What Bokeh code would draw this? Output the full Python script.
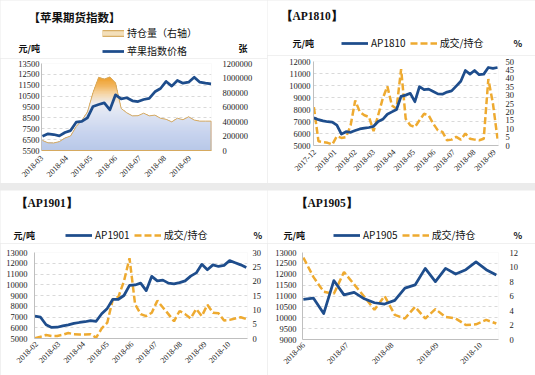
import math
import numpy as np
import pandas as pd
from bokeh.plotting import figure
from bokeh.models import (Range1d, LinearAxis, FixedTicker, DatetimeTickFormatter,
                          Legend, Label, BasicTickFormatter)
from bokeh.layouts import column, row
from bokeh.embed import file_html
from bokeh.resources import INLINE

# ---------------- data ----------------
index_title = "【苹果期货指数】"
index_start = "2018-03-02"
index_months = ["2018-03", "2018-04", "2018-05", "2018-06", "2018-07", "2018-08", "2018-09"]
index_price = [6800, 7030, 6970, 6850, 7150, 7330, 8100, 8170, 8500, 9550, 9730, 9880, 9240,
               10620, 10250, 10350, 10070, 10000, 10190, 10300, 10900, 11200, 11850, 11420,
               11940, 11690, 11780, 12240, 11780, 11690, 11630]
index_oi = [138000, 106000, 104000, 122000, 172000, 200000, 330000, 415000, 530000, 800000,
            1010000, 985000, 1015000, 930000, 580000, 520000, 478000, 480000, 515000, 478000,
            488000, 445000, 430000, 395000, 445000, 425000, 465000, 420000, 405000, 405000, 405000]
index_left_ticks = [5500, 6500, 7500, 8500, 9500, 10500, 11500, 12500, 13500]
index_right_ticks = [0, 200000, 400000, 600000, 800000, 1000000, 1200000]

ap1810_start = "2017-11-30"
ap1810_months = ["2017-12", "2018-01", "2018-02", "2018-03", "2018-04", "2018-05",
                 "2018-06", "2018-07", "2018-08", "2018-09"]
ap1810_price = [7300, 7150, 7050, 6980, 6950, 6700, 5950, 6150, 6100, 6250, 6380, 6450, 6500,
                6600, 7000, 7180, 7600, 7800, 8000, 9100, 9200, 9350, 8650, 9900, 9650, 9700,
                9500, 9300, 9280, 9450, 9550, 9950, 10350, 11250, 10950, 11250, 10900, 10950,
                11500, 11430, 11500]
ap1810_ratio = [22.8, 2.5, 2.0, 1.6, 0.6, 5.5, 4.5, 5.0, 12, 26.8, 20, 18, 17, 8.5, 18, 28,
                35.2, 23.8, 21.9, 45.5, 15.9, 12, 11, 15, 18.9, 17.9, 13, 9, 8.1, 3.1, 3.5,
                5.1, 3.5, 7.1, 4, 3.5, 3.1, 4, 39.6, 25, 4.1]
ap1810_left_ticks = [5000, 6000, 7000, 8000, 9000, 10000, 11000, 12000]
ap1810_right_ticks = [0, 5, 10, 15, 20, 25, 30, 35, 40, 45, 50]

ap1901_start = "2018-01-30"
ap1901_months = ["2018-02", "2018-03", "2018-04", "2018-05", "2018-06", "2018-07",
                 "2018-08", "2018-09", "2018-10"]
ap1901_price = [7080, 6980, 6280, 6030, 6050, 6180, 6270, 6400, 6490, 6560, 6670, 6600, 7300,
                7800, 8650, 8650, 9000, 9950, 9980, 10150, 9450, 10780, 10360, 10430, 10150,
                10080, 10200, 10360, 10800, 11100, 11900, 11400, 11850, 11700, 11800, 12250,
                12050, 11850, 11600]
ap1901_ratio = [0.1, 0.6, 1.2, 0.9, 0.9, 1.3, 1.9, 1.5, 1.4, 1.4, 1.5, 0.3, 3.5, 5.5, 13.7,
                14.5, 20, 28, 12, 8.5, 7.8, 9, 13.2, 10.8, 8.5, 6, 9.6, 8.5, 7, 10.3, 7.8,
                11.8, 9, 8.8, 6.3, 6.5, 7, 7.4, 6.8]
ap1901_left_ticks = [5000, 6000, 7000, 8000, 9000, 10000, 11000, 12000, 13000]
ap1901_right_ticks = [0, 5, 10, 15, 20, 25, 30]

ap1905_start = "2018-06-01"
ap1905_months = ["2018-06", "2018-07", "2018-08", "2018-09", "2018-10"]
ap1905_price = [10840, 10900, 10190, 11710, 11050, 11170, 10870, 10690, 10630, 10800, 11360,
                11510, 12270, 11660, 12270, 12010, 12210, 12570, 12210, 11970]
ap1905_ratio = [11.3, 8.6, 6.6, 6.3, 9.3, 7.6, 5.9, 4.1, 6.0, 3.4, 2.9, 4.5, 2.9, 4.2, 3.1,
                2.9, 2.0, 2.1, 2.7, 2.2]
ap1905_left_ticks = [9000, 9500, 10000, 10500, 11000, 11500, 12000, 12500, 13000]
ap1905_right_ticks = [0, 2, 4, 6, 8, 10, 12]

# ---------------- style ----------------
BLUE = "#1E4D8C"
GOLD = "#EEAA30"
GRID = "#D9D9D9"
AXIS = "#BFBFBF"
TAN = "#D6AA60"
CJK = "Noto Sans CJK SC"
SERIF = "Liberation Serif"
DAY = 86400000.0


def weekly_ms(start, n):
    return pd.date_range(start, periods=n, freq="7D").as_unit("ms").asi8.astype(float)


def month_ms(months):
    return [float(v) for v in pd.to_datetime([m + "-01" for m in months]).as_unit("ms").asi8]


def base_figure(w, h, bl, br, bt, bb, xr, yr):
    p = figure(width=w, height=h, x_axis_type="datetime", output_backend="svg",
               toolbar_location=None, min_border_left=bl, min_border_right=br,
               min_border_top=bt, min_border_bottom=bb, x_range=xr, y_range=yr,
               frame_align=False)
    p.outline_line_color = None
    p.background_fill_color = "white"
    p.border_fill_color = "white"
    p.xgrid.visible = False
    return p


def header_figure(w, h):
    p = figure(width=w, height=h, x_range=Range1d(0, w), y_range=Range1d(h, 0),
               output_backend="svg", toolbar_location=None, x_axis_location=None,
               y_axis_location=None, min_border=0, min_border_left=0, min_border_right=0,
               min_border_top=0, min_border_bottom=0, frame_align=False)
    p.outline_line_color = None
    p.grid.visible = False
    p.background_fill_color = "white"
    p.border_fill_color = "white"
    return p


def style_axis(ax, standoff, size="8.5px"):
    ax.major_tick_line_color = None
    ax.minor_tick_line_color = None
    ax.major_tick_out = 0
    ax.major_tick_in = 0
    ax.major_label_standoff = standoff
    ax.major_label_text_font = SERIF
    ax.major_label_text_font_size = size
    ax.major_label_text_color = "#1a1a1a"


def setup_axes(p, months, lticks, rname, rticks, lstand, rstand, xstand, xline):
    left = p.left[0]
    left.ticker = FixedTicker(ticks=lticks)
    left.axis_line_color = AXIS
    style_axis(left, lstand)
    p.ygrid.ticker = FixedTicker(ticks=lticks)
    p.ygrid.grid_line_color = GRID
    p.ygrid.grid_line_dash = "3 3"
    p.ygrid.grid_line_width = 1
    right = LinearAxis(y_range_name=rname, ticker=FixedTicker(ticks=rticks),
                       formatter=BasicTickFormatter(use_scientific=False))
    right.axis_line_color = None
    style_axis(right, rstand)
    p.add_layout(right, "right")
    bottom = p.below[0]
    bottom.ticker = FixedTicker(ticks=month_ms(months))
    fmt = "%Y-%m"
    bottom.formatter = DatetimeTickFormatter(days=fmt, months=fmt, years=fmt, hours=fmt,
                                             hourmin=fmt, minutes=fmt, minsec=fmt,
                                             seconds=fmt, milliseconds=fmt, microseconds=fmt)
    bottom.major_label_orientation = math.pi / 4
    bottom.axis_line_color = xline
    style_axis(bottom, xstand, "8px")


def add_text(p, x, y, text, size, font=CJK, bold=True):
    p.add_layout(Label(x=x, y=y, text=text, text_font=font, text_font_size=size,
                       text_font_style="bold" if bold else "normal",
                       text_baseline="middle", text_align="left", text_color="#111111"))


def proxy(p, **kw):
    # legend swatch renderer: one missing point, so nothing is drawn in the plot area
    return p.line(x=[np.nan], y=[np.nan], **kw)


def make_legend(items, loc, orientation, spacing, glyph_width):
    return Legend(items=items, location=loc, orientation=orientation,
                  border_line_color=None, background_fill_alpha=0, padding=0, margin=0,
                  spacing=spacing, glyph_width=glyph_width, glyph_height=12,
                  label_height=12, label_standoff=3, label_text_font=CJK,
                  label_text_font_size="10px", label_text_color="#111111")


def clip_curve(xs, ys, h):
    xs = np.asarray(xs, float)
    ys = np.asarray(ys, float)
    px = [xs[0]]
    for i in range(len(xs) - 1):
        a, b = ys[i] - h, ys[i + 1] - h
        if a * b < 0:
            t = a / (a - b)
            px.append(xs[i] + t * (xs[i + 1] - xs[i]))
        px.append(xs[i + 1])
    px = np.array(px)
    py = np.minimum(np.interp(px, xs, ys), h)
    return px, py


STOPS = [(0, (184, 199, 232)), (250000, (200, 212, 238)), (500000, (222, 228, 243)),
         (650000, (238, 238, 241)), (780000, (246, 214, 168)), (900000, (242, 180, 90)),
         (1000000, (239, 160, 45)), (1100000, (236, 150, 30))]


def grad_color(v):
    for (v0, c0), (v1, c1) in zip(STOPS[:-1], STOPS[1:]):
        if v <= v1:
            t = max(0.0, (v - v0) / (v1 - v0))
            c = [int(round(a + (b - a) * t)) for a, b in zip(c0, c1)]
            return "#%02x%02x%02x" % tuple(c)
    return "#%02x%02x%02x" % STOPS[-1][1]


# ---------------- panel 1: index ----------------
x1 = weekly_ms(index_start, len(index_price))
h1 = header_figure(267, 58)
p1 = base_figure(267, 125, 41, 56, 5, 33,
                 Range1d(x1[0] - 1.2 * DAY, x1[-1] + 0.5 * DAY),
                 Range1d(index_left_ticks[0], index_left_ticks[-1]))
p1.extra_y_ranges = {"oi": Range1d(index_right_ticks[0], index_right_ticks[-1])}
setup_axes(p1, index_months, index_left_ticks, "oi", index_right_ticks, 2, 11, 6, TAN)

step = 20000
levels = np.arange(1040000, 0, -step)
for h in levels:
    px, py = clip_curve(x1, index_oi, float(h))
    p1.varea(x=px, y1=0, y2=py, fill_color=grad_color(h - step / 2), y_range_name="oi")
p1.line(x1, index_oi, line_color=TAN, line_width=1, y_range_name="oi")
p1.segment(x0=[x1[-1]], y0=[index_oi[-1]], x1=[x1[-1]], y1=[0], line_color=TAN,
           line_width=1, y_range_name="oi")
p1.line(x1, index_price, line_color=BLUE, line_width=2.75, line_join="round")

sw_a = proxy(h1, line_color="#D7AE66", line_width=7)
sw_b = proxy(h1, line_color="#F3DFBA", line_width=4.5)
sw_c = proxy(h1, line_color=BLUE, line_width=2.75)
h1.add_layout(make_legend([("持仓量（右轴）", [sw_a, sw_b]), ("苹果指数价格", [sw_c])],
                          (102, 0), "vertical", 3, 22))
add_text(h1, 28, 16, index_title, "11.5px")
add_text(h1, 18, 48, "元/吨", "9px")
add_text(h1, 238, 48, "张", "9px")


# ---------------- contract panels ----------------
def contract_panel(w, hh, ph, bl, br, bt, bb, start, months, price, ratio, lticks, rticks,
                   lstand, rstand, xstand, name, title_xy, unit_xy, pct_xy, leg_xy):
    xs = weekly_ms(start, len(price))
    hd = header_figure(w, hh)
    p = base_figure(w, ph, bl, br, bt, bb,
                    Range1d(xs[0] - 0.6 * DAY, xs[-1] + 1.5 * DAY),
                    Range1d(lticks[0], lticks[-1]))
    p.extra_y_ranges = {"pct": Range1d(rticks[0], rticks[-1])}
    setup_axes(p, months, lticks, "pct", rticks, lstand, rstand, xstand, AXIS)
    p.line(xs, ratio, line_color=GOLD, line_width=2.5, line_dash="7 3", y_range_name="pct")
    p.line(xs, price, line_color=BLUE, line_width=2.75, line_join="round")
    lb = proxy(hd, line_color=BLUE, line_width=2.75)
    lg = proxy(hd, line_color=GOLD, line_width=2.5, line_dash="7 3")
    hd.add_layout(make_legend([(name, [lb]), ("成交/持仓", [lg])], leg_xy,
                              "horizontal", 4, 27))
    add_text(hd, title_xy[0], title_xy[1], "【" + name + "】", "11.5px", font=SERIF)
    add_text(hd, unit_xy[0], unit_xy[1], "元/吨", "9px")
    add_text(hd, pct_xy[0], pct_xy[1], "%", "9px")
    return column(hd, p, spacing=0)


c2 = contract_panel(268, 55, 128, 46, 37, 6, 38, ap1810_start, ap1810_months, ap1810_price,
                    ap1810_ratio, ap1810_left_ticks, ap1810_right_ticks, 3, 7, 5, "AP1810",
                    (13, 15), (25, 43), (246, 43), (74, 5))
c3 = contract_panel(267, 53, 132, 34, 20, 9, 37, ap1901_start, ap1901_months, ap1901_price,
                    ap1901_ratio, ap1901_left_ticks, ap1901_right_ticks, 7, 5, 4, "AP1901",
                    (15, 12), (13, 45), (253, 45), (65, 1))
c4 = contract_panel(268, 53, 132, 35, 37, 9, 36, ap1905_start, ap1905_months, ap1905_price,
                    ap1905_ratio, ap1905_left_ticks, ap1905_right_ticks, 6, 11, 4, "AP1905",
                    (28, 12), (16, 45), (246, 45), (66, 1))

c1 = column(h1, p1, spacing=0)
layout = column(row(c1, c2, spacing=0), row(c3, c4, spacing=0), spacing=7,
                styles={"background-color": "#EBEBEB"})

open("out.html", "w").write(file_html(layout, INLINE, title="apple futures"))
